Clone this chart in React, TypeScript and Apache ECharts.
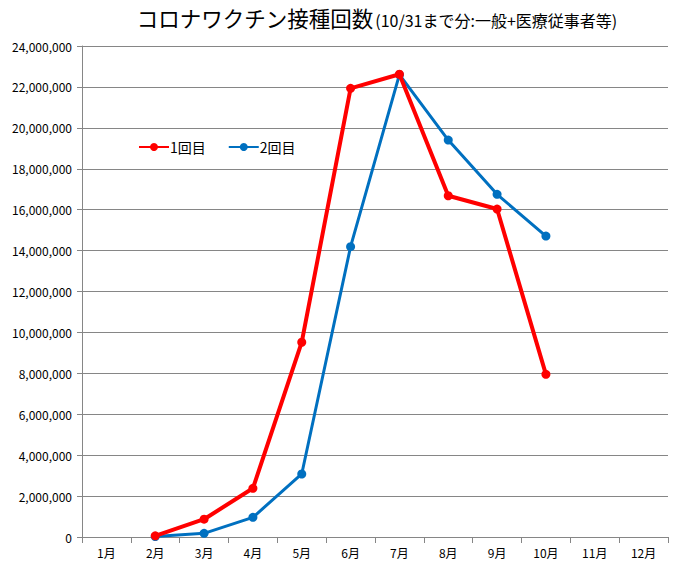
import React, { useEffect, useRef } from "react";
import * as echarts from "echarts";

const months = ["1月", "2月", "3月", "4月", "5月", "6月", "7月", "8月", "9月", "10月", "11月", "12月"];
const dose1 = [null, 60000, 870000, 2380000, 9520000, 21930000, 22620000, 16680000, 16030000, 7950000, null, null];
const dose2 = [null, 20000, 180000, 960000, 3080000, 14190000, 22600000, 19400000, 16750000, 14710000, null, null];
const seriesNames = ["1回目", "2回目"];
const titleMain = "コロナワクチン接種回数";
const titleSub = "(10/31まで分:一般+医療従事者等)";

const FONT = "'Noto Sans CJK JP', 'Noto Sans', sans-serif";

export default function App() {
  const ref = useRef<HTMLDivElement>(null);
  useEffect(() => {
    const chart = echarts.init(ref.current!, null, { renderer: "svg" });
    chart.setOption({
      animation: false,
      backgroundColor: "#ffffff",
      textStyle: { fontFamily: FONT },
      title: {
        text: `{a|${titleMain}}{b|${titleSub}}`,
        left: 372,
        textAlign: "center",
        top: 2,
        textStyle: {
          fontWeight: "normal",
          rich: {
            a: { fontSize: 21.5, color: "#000", fontFamily: FONT, fontWeight: "normal", verticalAlign: "bottom" },
            b: { fontSize: 16, color: "#000", fontFamily: FONT, fontWeight: "normal", verticalAlign: "bottom", padding: [0, 0, 1, 2] },
          },
        },
      },
      legend: {
        left: 133,
        top: 135,
        itemGap: 22,
        itemWidth: 30,
        itemHeight: 10,
        textStyle: { fontSize: 14, color: "#000", fontFamily: FONT, padding: [0, 0, 0, -4] },
        data: seriesNames,
      },
      grid: { left: 82, right: 15, top: 46, bottom: 35, containLabel: false },
      xAxis: {
        type: "category",
        data: months,
        boundaryGap: true,
        axisLine: { show: true, lineStyle: { color: "#868686", width: 1 } },
        axisTick: { show: true, length: 6, lineStyle: { color: "#868686" } },
        axisLabel: { fontSize: 12, color: "#000", margin: 9, fontFamily: FONT },
        splitLine: { show: false },
      },
      yAxis: {
        type: "value",
        min: 0,
        max: 24000000,
        interval: 2000000,
        axisLine: { show: true, lineStyle: { color: "#868686", width: 1 } },
        axisTick: { show: true, length: 5, lineStyle: { color: "#868686" } },
        axisLabel: {
          fontSize: 12,
          color: "#000",
          margin: 10,
          fontFamily: FONT,
          formatter: (v: number) => v.toLocaleString("en-US"),
        },
        splitLine: { show: true, lineStyle: { color: "#868686", width: 1 } },
      },
      series: [
        {
          name: seriesNames[0],
          type: "line",
          data: dose1,
          connectNulls: false,
          symbol: "circle",
          symbolSize: 9,
          itemStyle: { color: "#FF0000" },
          lineStyle: { color: "#FF0000", width: 4 },
          z: 3,
        },
        {
          name: seriesNames[1],
          type: "line",
          data: dose2,
          symbol: "circle",
          symbolSize: 9,
          itemStyle: { color: "#0070C0" },
          lineStyle: { color: "#0070C0", width: 3 },
          z: 2,
        },
      ],
    });
    return () => chart.dispose();
  }, []);
  return <div ref={ref} style={{ position: "fixed", left: 0, top: 0, width: 683, height: 572 }} />;
}
